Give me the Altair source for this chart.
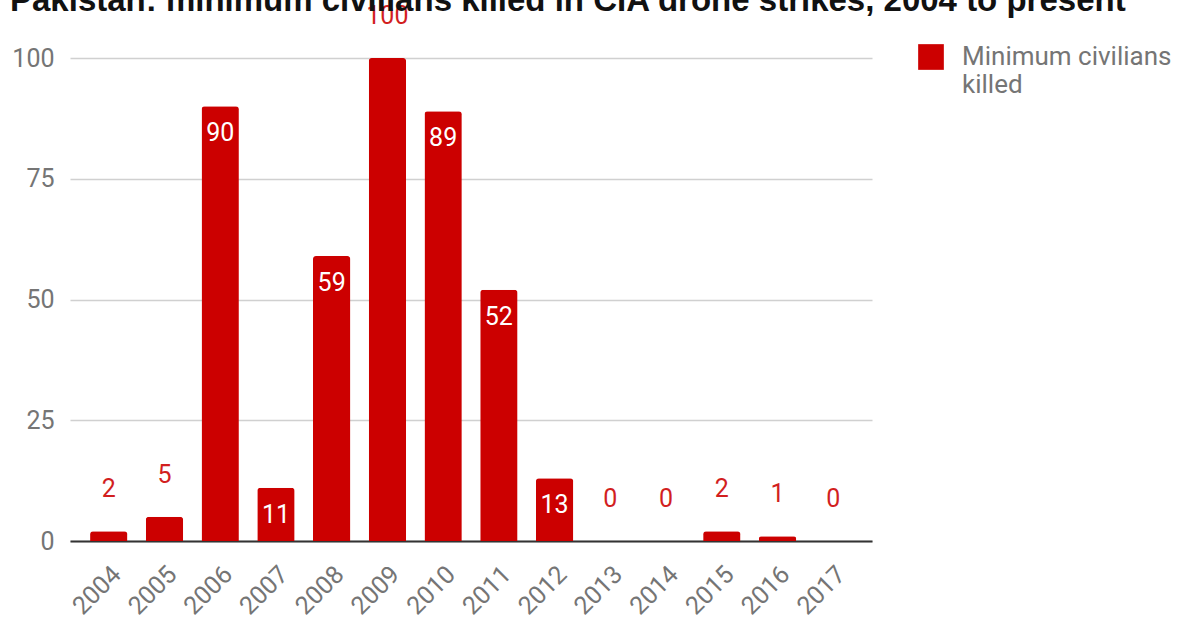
import altair as alt
import pandas as pd

years = ["2004", "2005", "2006", "2007", "2008", "2009", "2010",
         "2011", "2012", "2013", "2014", "2015", "2016", "2017"]
killed = [2, 5, 90, 11, 59, 100, 89, 52, 13, 0, 0, 2, 1, 0]
series_name = "Minimum civilians killed"

df = pd.DataFrame({"year": years, "killed": killed, "series": series_name})

RED = "#cc0000"
GRAY = "#757575"

x = alt.X("year:N", sort=years, title=None,
          scale=alt.Scale(paddingInner=0.33, paddingOuter=0.36),
          axis=alt.Axis(labelAngle=-45, labelAlign="right", labelBaseline="middle",
                        labelOffset=8, labelPadding=29, labelFont="Roboto",
                        labelFontSize=25, labelColor=GRAY, ticks=False,
                        domainColor="#333333", domainWidth=2, grid=False))
y = alt.Y("killed:Q", title=None,
          scale=alt.Scale(domain=[0, 100], nice=False),
          axis=alt.Axis(values=[0, 25, 50, 75, 100], labelFont="Roboto",
                        labelFontSize=25, labelColor=GRAY, labelPadding=16,
                        ticks=False, domain=False, gridColor="#d0d0d0",
                        gridWidth=1.5))

bars = alt.Chart(df).mark_bar(cornerRadiusTopLeft=3, cornerRadiusTopRight=3).encode(
    x=x, y=y,
    color=alt.Color("series:N", scale=alt.Scale(range=[RED]), title=None,
                    legend=alt.Legend(orient="none", legendX=848, legendY=-14,
                                      symbolType="square", symbolSize=660,
                                      symbolStrokeWidth=0, symbolOpacity=1,
                                      labelFont="Roboto", labelFontSize=26,
                                      labelColor=GRAY, labelOffset=18,
                                      labelExpr="['Minimum civilians', 'killed']",
                                      labelLimit=300)),
)

inside = alt.Chart(df).transform_filter(
    "datum.killed >= 10 && datum.killed < 100"
).mark_text(color="white", font="Roboto", fontSize=25, baseline="middle", dy=27).encode(
    x=alt.X("year:N", sort=years), y="killed:Q", text="killed:Q")

outside = alt.Chart(df).transform_filter(
    "datum.killed < 10 || datum.killed >= 100"
).mark_text(color="#d21f1f", font="Roboto", fontSize=25, baseline="middle", dy=-42).encode(
    x=alt.X("year:N", sort=years), y="killed:Q", text="killed:Q")

chart = alt.layer(bars, inside, outside).properties(
    width=802, height=483,
    autosize=alt.AutoSizeParams(type="none"),
    padding={"left": 70, "top": 58, "right": 312, "bottom": 80},
    title=alt.TitleParams(
        "Pakistan: minimum civilians killed in CIA drone strikes, 2004 to present",
        anchor="start", frame="group", font="Liberation Sans", fontSize=33,
        fontWeight="bold", color="#111111", baseline="alphabetic",
        offset=-40, dx=-60),
).configure_view(stroke=None)

chart.save("out.html", embed_options={"renderer": "svg", "actions": False})
